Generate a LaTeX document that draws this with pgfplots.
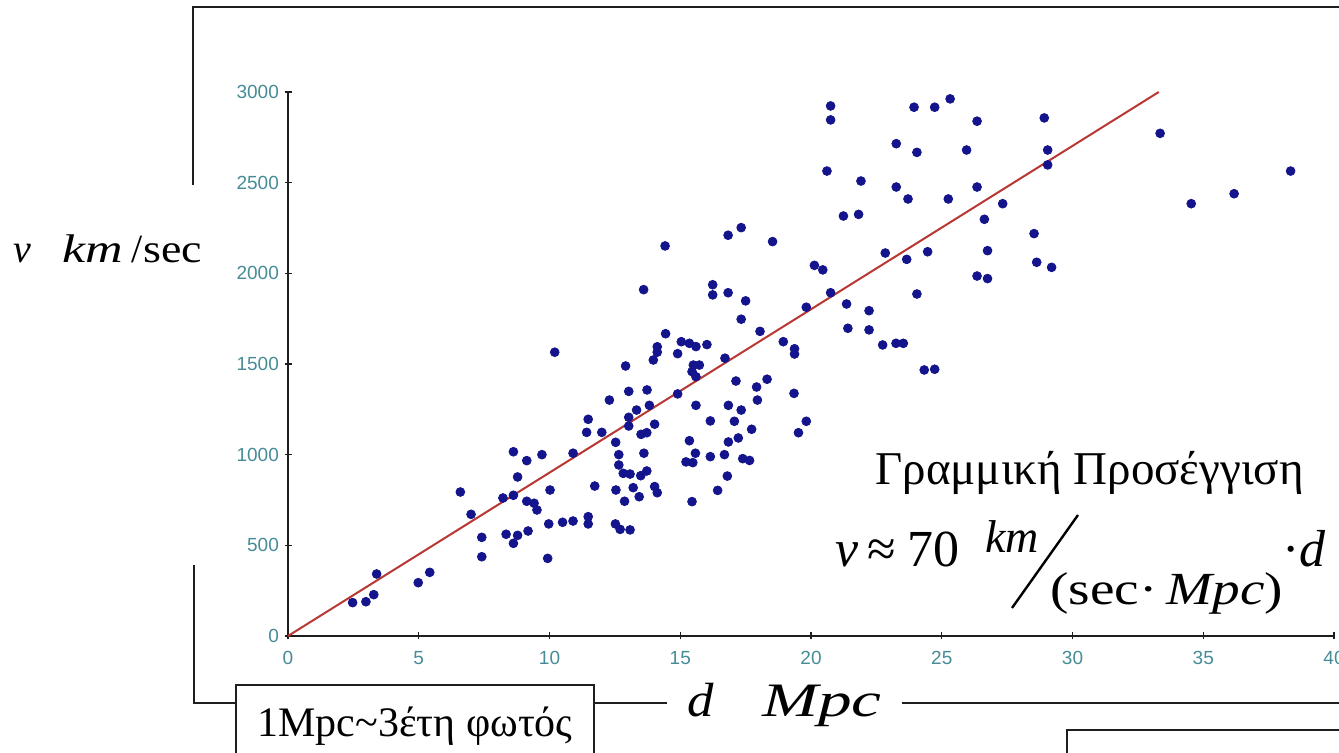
\documentclass[border=0pt]{standalone}
\usepackage{fontspec}
\setmainfont{Liberation Serif}
\setsansfont{Liberation Sans}
\usepackage{graphicx}
\usepackage{pgfplots}
\usepackage{pgfplotstable}
\pgfplotsset{compat=1.18}
\definecolor{dotcol}{RGB}{20,20,140}
\definecolor{linecol}{RGB}{185,55,50}
\definecolor{tickcol}{RGB}{70,140,150}
\definecolor{framecol}{RGB}{30,30,30}
\pgfplotstableread{
x y
2.47 184
2.98 189
3.28 228
3.39 342
4.98 294
5.42 351
6.59 794
7.00 671
7.41 544
7.41 437
8.34 561
8.62 511
8.78 555
9.18 579
8.62 1016
8.78 877
9.13 967
9.71 1000
8.22 761
8.62 776
9.13 743
9.41 732
9.52 695
10.02 805
9.97 618
9.93 428
10.20 1565
10.50 627
10.90 634
10.90 1008
11.48 658
11.48 618
11.48 1195
11.42 1123
11.73 827
12.00 1123
12.29 1301
12.52 618
12.70 588
13.08 585
12.53 1068
12.65 1000
12.65 943
12.82 897
13.08 893
12.54 805
12.87 743
13.20 818
13.43 768
13.49 884
13.72 910
14.02 824
14.12 790
13.61 1008
13.50 1112
13.72 1121
14.02 1168
13.03 1158
13.03 1206
13.33 1246
13.82 1272
13.03 1349
13.73 1357
12.91 1489
13.97 1522
14.12 1595
14.12 1565
14.44 1667
14.90 1557
14.90 1335
15.04 1623
15.35 1614
15.60 1596
16.02 1607
16.71 1532
15.50 1494
15.73 1494
15.45 1458
15.60 1430
15.60 1272
16.15 1186
15.35 1077
15.58 1008
15.22 960
15.48 956
16.15 989
16.69 1000
16.84 1070
16.84 1272
16.80 882
16.43 803
15.45 741
14.42 2151
13.60 1910
20.75 2923
20.75 2846
23.94 2916
24.73 2916
25.32 2962
26.35 2839
23.26 2715
24.05 2667
25.95 2680
20.61 2564
21.91 2509
23.26 2476
23.71 2410
25.25 2410
26.35 2476
27.33 2384
21.24 2316
21.82 2325
26.63 2298
28.53 2219
26.75 2125
28.63 2061
26.35 1985
26.75 1971
22.84 2112
23.66 2077
24.46 2119
24.05 1886
16.83 2210
17.33 2252
18.53 2175
20.13 2044
20.45 2019
20.75 1893
16.24 1937
16.24 1881
16.83 1893
17.50 1848
17.33 1747
18.05 1680
18.94 1623
19.37 1584
19.37 1555
19.82 1813
21.36 1831
22.22 1794
21.41 1697
22.22 1688
22.74 1605
23.25 1614
23.53 1614
24.33 1467
24.73 1471
17.13 1406
17.92 1373
18.32 1416
17.95 1301
19.35 1338
17.33 1246
17.07 1184
17.73 1140
19.82 1184
19.52 1121
17.22 1092
17.39 978
17.65 968
28.92 2857
29.05 2680
29.05 2598
33.35 2772
29.20 2033
34.54 2384
36.18 2439
38.34 2564
}\hubble
\begin{document}
\begin{tikzpicture}
\useasboundingbox (0,0) rectangle (669.5pt,376.5pt);
% frame lines
\draw[framecol, line width=1pt] (96.5pt,284pt) -- (96.5pt,373pt) -- (675pt,373pt);
\draw[framecol, line width=1pt] (97pt,94pt) -- (97pt,25pt) -- (118pt,25pt);
\draw[framecol, line width=1pt] (297pt,25pt) -- (333.5pt,25pt);
\draw[framecol, line width=1pt] (451pt,25pt) -- (675pt,25pt);
\draw[framecol, line width=1pt] (118pt,-5pt) rectangle (297pt,34pt);
\draw[framecol, line width=1pt] (533.5pt,-5pt) rectangle (680pt,11.5pt);
\begin{axis}[
  at={(144pt,58.5pt)}, anchor=south west,
  scale only axis, width=523pt, height=272pt,
  xmin=0, xmax=40, ymin=0, ymax=3000,
  axis lines=left,
  axis line style={-, draw=framecol, line width=0.8pt},
  xtick={0,5,...,40}, ytick={0,500,...,3000},
  tick align=center, major tick length=3.5pt,
  tick style={draw=framecol, line width=0.7pt},
  ticklabel style={font=\fontsize{9.5}{10}\selectfont\sffamily, text=tickcol},
  /pgf/number format/assume math mode=true,
  scaled ticks=false,
  /pgf/number format/set thousands separator={},
  xticklabel style={yshift=-2.5pt},
  yticklabel style={xshift=0.7pt},
  clip=false,
]
\addplot[color=linecol, line width=1pt] coordinates {(0,0) (33.3,3000)};
\addplot[only marks, mark=*, mark size=2.2pt, color=dotcol, mark options={draw=dotcol, fill=dotcol}] table[x=x, y=y] {\hubble};
\end{axis}
% axis labels
\node[anchor=base west, inner sep=0, font=\fontsize{20}{24}\selectfont\itshape] at (6.5pt,245pt) {v};
\node[anchor=base west, inner sep=0, font=\fontsize{20}{24}\selectfont\itshape] at (31pt,245pt) {\scalebox{1.3}[1]{km}};
\node[anchor=base west, inner sep=0, font=\fontsize{20}{24}\selectfont] at (65.5pt,245pt) {/};
\node[anchor=base west, inner sep=0, font=\fontsize{20}{24}\selectfont] at (71.5pt,245pt) {\scalebox{1.15}[1]{sec}};
\node[anchor=base west, inner sep=0, font=\fontsize{24}{28}\selectfont\itshape] at (343.5pt,18pt) {\scalebox{1.1}[1]{d}};
\node[anchor=base west, inner sep=0, font=\fontsize{24}{28}\selectfont\itshape] at (381pt,18pt) {\scalebox{1.4}[1]{Mpc}};
% box text
\node[anchor=base, inner sep=0, font=\fontsize{21}{25}\selectfont] at (207.5pt,8pt) {1Mpc\textasciitilde3έτη φωτός};
% annotation
\node[anchor=base west, inner sep=0, font=\fontsize{23.5}{27}\selectfont] at (437.5pt,134pt) {Γραμμική Προσέγγιση};
\node[anchor=base west, inner sep=0, font=\fontsize{26}{30}\selectfont\itshape] at (417.5pt,93pt) {v};
\node[anchor=base west, inner sep=0, font=\fontsize{26}{30}\selectfont] at (433.5pt,93pt) {≈};
\node[anchor=base west, inner sep=0, font=\fontsize{26}{30}\selectfont] at (453.5pt,93pt) {70};
\node[anchor=base west, inner sep=0, font=\fontsize{23}{27}\selectfont\itshape] at (492.5pt,100pt) {km};
\draw[black, line width=1.2pt] (506pt,72.5pt) -- (539pt,119pt);
\node[anchor=base west, inner sep=0, font=\fontsize{23}{27}\selectfont] at (525pt,74pt) {\scalebox{1.2}[1]{(sec·\,\textit{Mpc})}};
\node[anchor=base west, inner sep=0, font=\fontsize{26}{30}\selectfont] at (641pt,93pt) {·\textit{d}};
\end{tikzpicture}
\end{document}
